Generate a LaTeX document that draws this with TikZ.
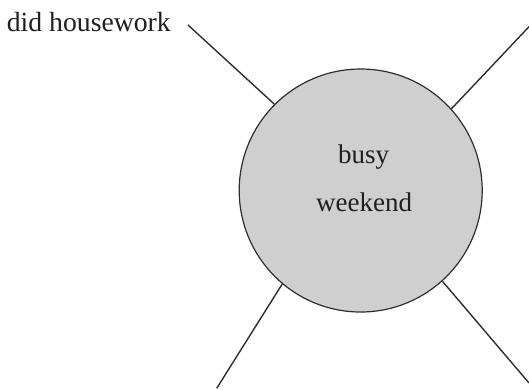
\documentclass[tikz,border=0pt]{standalone}
\usepackage{fontspec}
\setmainfont{Liberation Serif}
\begin{document}
\begin{tikzpicture}[x=1pt,y=-1pt,
  spoke/.style={draw=black!82,line width=1.4pt},
  hub/.style={circle,draw=black!82,line width=1.2pt,fill=black!19,
    minimum size=243pt,inner sep=0pt},
  word/.style={inner sep=0pt,text=black!88,font=\fontsize{27}{32}\selectfont}]
\useasboundingbox (0,0) rectangle (529,389);
% central bubble
\node[hub] (circ) at (360.7,190.5) {};
\node[word,anchor=base] (t1) at (363.5,163.3) {busy};
\node[word,anchor=base] (t2) at (364.2,211) {weekend};
% outer ends of the spokes
\coordinate (tl) at (188,25);
\coordinate (tr) at (529,26.7);
\coordinate (bl) at (216.7,388.3);
\coordinate (br) at (529,383);
\draw[spoke] (tl) -- (circ.135.7);
\draw[spoke] (tr) -- (circ.42.4);
\draw[spoke] (bl) -- (circ.230.5);
\draw[spoke] (br) -- (circ.-48);
% label on the first spoke
\node[word,anchor=base west,font=\fontsize{27.7}{32}\selectfont] (lab) at (6.7,31.7) {did housework};
\end{tikzpicture}
\end{document}
